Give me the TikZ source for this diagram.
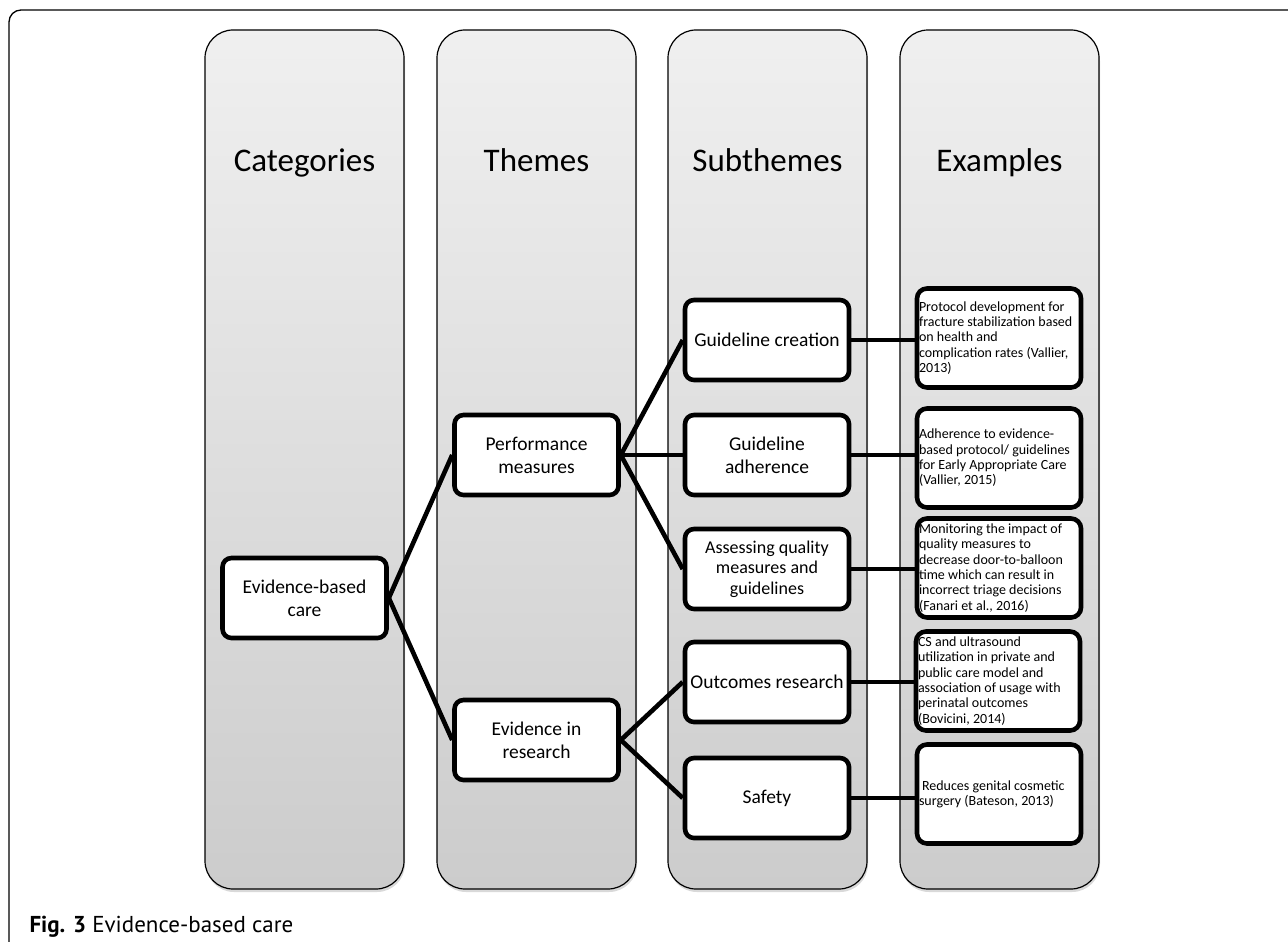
\documentclass[tikz,border=0pt]{standalone}
\usepackage{fontspec}
\setmainfont{Carlito}
\newfontfamily\capfont{PT Sans}
\usetikzlibrary{shadows}

\tikzset{
  column/.style={draw=black, line width=1.2pt, rounded corners=28pt,
    top color=gray!12, bottom color=gray!40,
    drop shadow={opacity=0.3, shadow xshift=1pt, shadow yshift=-3pt}},
  header/.style={anchor=base, font=\fontsize{33}{38}\selectfont},
  item/.style={draw, line width=4.6pt, rounded corners=9pt, fill=white,
    minimum width=164pt, minimum height=80pt, align=center,
    font=\fontsize{19.5}{23}\selectfont, inner sep=2pt},
  example/.style={draw, line width=4.6pt, rounded corners=10pt, fill=white,
    minimum height=99pt, text width=160pt, align=flush left,
    font=\fontsize{14}{15.3}\selectfont, inner xsep=2pt, inner ysep=1pt},
  link/.style={line width=4.6pt}
}

\begin{document}
\begin{tikzpicture}[x=1pt,y=-1pt]
\useasboundingbox (0,0) rectangle (1288,942);
\draw[line width=1.3pt, rounded corners=12pt] (9,950) -- (9,10) -- (1300,10);

\foreach \x/\name/\txt in {205/hcat/Categories, 437/hthm/Themes, 668/hsub/Subthemes, 900/hex/Examples} {
  \path[column] (\x,30) rectangle ++(199,859);
  \node[header] (\name) at (\x+99.5,171) {\txt};
}

\node[item] (ebc) at (304.5,598) {Evidence-based\\care};
\node[item] (perf) at (536.5,455) {Performance\\measures};
\node[item] (evres) at (536.5,740) {Evidence in\\research};

\node[item] (gcre) at (767,340) {Guideline creation};
\node[item] (gadh) at (767,455) {Guideline\\adherence};
\node[item, font=\fontsize{18}{20.5}\selectfont] (assq) at (767,569) {Assessing quality\\measures and\\guidelines};
\node[item] (outr) at (767,682) {Outcomes research};
\node[item] (safe) at (767,798) {Safety};

\node[example] (ex1) at (999,338) {Protocol development for\\fracture stabilization based\\on health and\\complication rates (Vallier,\\2013)};
\node[example] (ex2) at (999,458) {Adherence to evidence-\\based protocol/ guidelines\\for Early Appropriate Care\\(Vallier, 2015)};
\node[example] (ex3) at (999,568) {Monitoring the impact of\\quality measures to\\decrease door-to-balloon\\time which can result in\\incorrect triage decisions\\(Fanari et al., 2016)};
\node[example] (ex4) at (998,681) {CS and ultrasound\\utilization in private and\\public care model and\\association of usage with\\perinatal outcomes\\(Bovicini, 2014)};
\node[example] (ex5) at (999,794) {\hspace{3pt}Reduces genital cosmetic\\surgery (Bateson, 2013)};

\draw[link] (ebc.east) -- (perf.west);
\draw[link] (ebc.east) -- (evres.west);
\draw[link] (perf.east) -- (gcre.west);
\draw[link] (perf.east) -- (gadh.west);
\draw[link] (perf.east) -- (assq.west);
\draw[link] (evres.east) -- (outr.west);
\draw[link] (evres.east) -- (safe.west);
\draw[link] (gcre.east) -- (gcre.east -| ex1.west);
\draw[link] (gadh.east) -- (gadh.east -| ex2.west);
\draw[link] (assq.east) -- (assq.east -| ex3.west);
\draw[link] (outr.east) -- (outr.east -| ex4.west);
\draw[link] (safe.east) -- (safe.east -| ex5.west);

\node[anchor=base west, font=\capfont\fontsize{23}{26}\selectfont] (cap) at (26,932) {\textbf{Fig. 3} Evidence-based care};
\end{tikzpicture}
\end{document}
